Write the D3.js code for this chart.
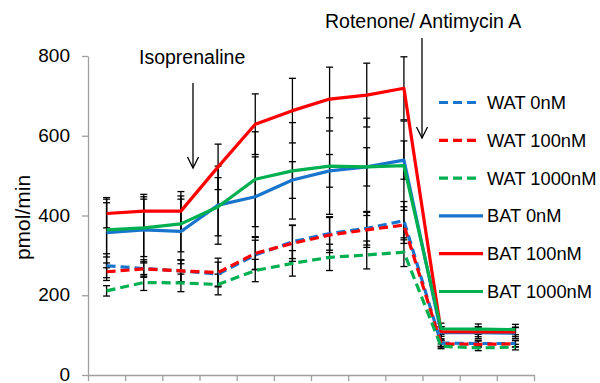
<!DOCTYPE html>
<html>
<head>
<meta charset="utf-8">
<script src="https://cdn.jsdelivr.net/npm/d3@7"></script>
<style>
  html, body { margin: 0; padding: 0; background: #fff; }
  svg { display: block; font-family: "Liberation Sans", Arial, sans-serif; }
</style>
</head>
<body>
<svg id="chart" width="600" height="383"></svg>
<script>
// Measurement cycles (12 readings; x axis carries no labels)
const cycles = d3.range(1, 13);
const yTicks = [0, 200, 400, 600, 800];

// Oxygen consumption rate (pmol/min), mean per cycle
const wat0    = [274, 267, 261, 253, 301, 334, 355, 368, 387, 80, 79, 79];
const wat100  = [259, 266, 261, 257, 305, 330, 351, 364, 376, 78, 77, 78];
const wat1000 = [211, 232, 231, 227, 262, 280, 295, 301, 308, 72, 68, 70];
const bat0    = [357, 364, 360, 426, 447, 489, 512, 522, 539, 106, 106, 105];
const bat100  = [405, 411, 411, 522, 629, 663, 692, 702, 719, 109, 108, 108];
const bat1000 = [364, 369, 379, 422, 491, 512, 524, 522, 525, 116, 115, 114];

// Error (± pmol/min) per cycle
const errWat0    = [30, 22, 28, 30, 37, 42, 42, 42, 48, 8, 8, 8];
const errWat100  = [22, 18, 27, 36, 40, 45, 44, 44, 46, 8, 8, 8];
const errWat1000 = [13, 20, 22, 26, 28, 32, 33, 35, 36, 6, 7, 7];
const errBat0    = [88, 83, 81, 98, 100, 46, 41, 48, 48, 15, 15, 14];
const errBat100  = [36, 42, 49, 57, 76, 81, 80, 80, 79, 12, 12, 12];
const errBat1000 = [68, 72, 70, 73, 119, 121, 121, 122, 112, 14, 13, 13];

const seriesNames = ["WAT 0nM", "WAT 100nM", "WAT 1000nM", "BAT 0nM", "BAT 100nM", "BAT 1000nM"];
const seriesValues = [wat0, wat100, wat1000, bat0, bat100, bat1000];
const seriesErrors = [errWat0, errWat100, errWat1000, errBat0, errBat100, errBat1000];
const seriesColors = ["#1874cd", "#ff0000", "#00b050", "#1874cd", "#ff0000", "#00b050"];
const seriesDashed = [true, true, true, false, false, false];

const series = seriesNames.map((name, i) => ({
  name, values: seriesValues[i], errors: seriesErrors[i],
  color: seriesColors[i], dashed: seriesDashed[i]
}));

const svg = d3.select("#chart");
const plotLeft = 88, plotRight = 534, plotTop = 56, plotBottom = 375;

// x: cycle boundaries 0..12, points sit mid-cycle
const xb = d3.scaleLinear().domain([0, cycles.length]).range([plotLeft, plotRight]);
const xp = i => xb(i + 0.5);
const y = d3.scaleLinear().domain([0, 800]).range([plotBottom, plotTop]);

const axisColor = "#a0a0a0";

// y axis
const gy = svg.append("g").attr("transform", `translate(${plotLeft},0)`)
  .call(d3.axisLeft(y).tickValues(yTicks).tickSize(6).tickSizeOuter(0).tickPadding(12));
gy.select(".domain").attr("stroke", axisColor).attr("stroke-width", 1.3);
gy.selectAll(".tick line").attr("stroke", axisColor).attr("stroke-width", 1.3);
gy.selectAll(".tick text").attr("fill", "#000").attr("dy", "0.3em").style("font-size", "19px")
  .style("font-family", "'Liberation Sans', Arial, sans-serif");

// x axis (boundary ticks, no labels)
const gx = svg.append("g").attr("transform", `translate(0,${plotBottom})`)
  .call(d3.axisBottom(xb).tickValues(d3.range(cycles.length + 1)).tickFormat("").tickSize(6).tickSizeOuter(0));
gx.select(".domain").attr("stroke", axisColor).attr("stroke-width", 1.3);
gx.selectAll(".tick line").attr("stroke", axisColor).attr("stroke-width", 1.3);

// y axis title
svg.append("text")
  .attr("transform", `translate(30,${(plotTop + plotBottom) / 2 + 2}) rotate(-90)`)
  .attr("text-anchor", "middle")
  .style("font-size", "21px")
  .text("pmol/min");

// error bars
const eb = svg.append("g").attr("stroke", "#000").attr("stroke-width", 1.3);
series.forEach(s => {
  s.values.forEach((v, i) => {
    const e = s.errors[i], x = xp(i);
    eb.append("line").attr("x1", x).attr("x2", x).attr("y1", y(v + e)).attr("y2", y(v - e));
    [v + e, v - e].forEach(t => {
      eb.append("line").attr("x1", x - 3.5).attr("x2", x + 3.5).attr("y1", y(t)).attr("y2", y(t));
    });
  });
});

// series lines
const line = d3.line().x((d, i) => xp(i)).y(d => y(d));
series.forEach(s => {
  svg.append("path")
    .datum(s.values)
    .attr("d", line)
    .attr("fill", "none")
    .attr("stroke", s.color)
    .attr("stroke-width", 3.2)
    .attr("stroke-linejoin", "round")
    .attr("stroke-dasharray", s.dashed ? "9,5" : null);
});

// legend
const lg = svg.append("g");
series.forEach((s, i) => {
  const ry = 102.5 + i * 37.8;
  lg.append("line")
    .attr("x1", 439).attr("x2", s.dashed ? 478 : 483)
    .attr("y1", ry).attr("y2", ry)
    .attr("stroke", s.color).attr("stroke-width", 3.2)
    .attr("stroke-dasharray", s.dashed ? "9,5" : null);
  lg.append("text")
    .attr("x", 487).attr("y", ry).attr("dy", "0.36em")
    .style("font-size", "18.3px")
    .text(s.name);
});

// treatment annotations
function arrow(x, y1, y2) {
  const g = svg.append("g").attr("stroke", "#000").attr("stroke-width", 1.3).attr("fill", "none");
  g.append("line").attr("x1", x).attr("x2", x).attr("y1", y1).attr("y2", y2);
  g.append("path").attr("d", `M${x - 5.5},${y2 - 11}L${x},${y2}L${x + 5.5},${y2 - 11}`);
}
svg.append("text").attr("x", 139).attr("y", 64).style("font-size", "19.5px").text("Isoprenaline");
arrow(xb(3) - 6.5, 83, 168);
svg.append("text").attr("x", 325).attr("y", 28).style("font-size", "19.5px").text("Rotenone/ Antimycin A");
arrow(xb(9) - 0.5, 38, 138);
</script>
</body>
</html>
